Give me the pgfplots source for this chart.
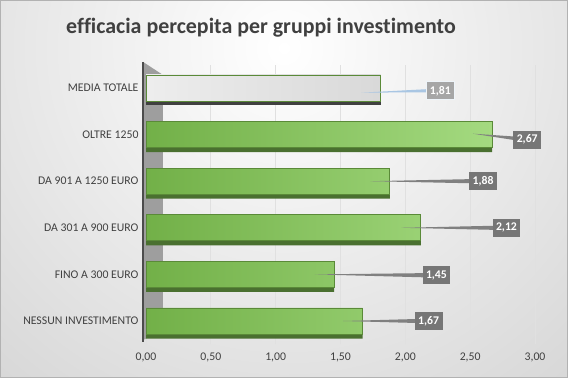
\documentclass[border=0pt]{standalone}
\usepackage{pgfplots}
\pgfplotsset{compat=1.18}
\usepackage{fontspec}
\setmainfont{Carlito}[Ligatures=NoCommon]
\definecolor{gA}{HTML}{72B048}
\definecolor{gB}{HTML}{A4DA80}
\definecolor{gEdge}{HTML}{5A8A38}
\definecolor{gDark}{HTML}{4A7030}
\definecolor{lbl}{HTML}{767676}
\definecolor{txt}{HTML}{404040}
\definecolor{callblue}{HTML}{A9C6E3}
\begin{document}
\begin{tikzpicture}
\useasboundingbox (0bp,0bp) rectangle (568bp,378bp);
\begin{scope}
\clip (0bp,0bp) rectangle (568bp,378bp);
\shade[inner color=white, outer color=black!22] (284bp,330bp) circle (620bp);
\end{scope}
\draw[black!30] (0.5bp,0.5bp) rectangle (567.5bp,377.5bp);
\node[font=\bfseries\fontsize{22}{26}\selectfont, text=txt] at (261bp,350bp) {efficacia percepita per gruppi investimento};
\begin{axis}[
  at={(146bp,33.7bp)}, anchor=south west,
  scale only axis, width=389bp, height=279.6bp,
  xmin=0, xmax=3, ymin=-0.5, ymax=5.5,
  clip=false,
  axis line style={draw=none},
  major tick length=0pt,
  xtick={0,0.5,...,3},
  ytick={0,1,2,3,4,5},
  yticklabels={NESSUN INVESTIMENTO, FINO A 300 EURO, DA 301 A 900 EURO, DA 901 A 1250 EURO, OLTRE 1250, MEDIA TOTALE},
  yticklabel style={font=\fontsize{11.8}{13}\selectfont, text=txt, xshift=-4bp},
  xticklabel style={font=\fontsize{11.8}{13}\selectfont, text=txt, yshift=-5bp},
  /pgf/number format/.cd, use comma, fixed, fixed zerofill, precision=2, assume math mode=true,
  /pgfplots/.cd,
  xmajorgrids, grid style={black!12, line width=0.8pt},
]
% left wall
\addplot[fill=black!38, draw=none] coordinates {(-0.023,5.56) (0.131,5.28) (0.131,-0.19) (-0.023,-0.41)} --cycle;
\addplot[black!70, line width=1.6pt] coordinates {(-0.023,-0.45) (-0.023,5.56)};
% bar bottom faces
\addplot[xbar, bar shift=-15bp, bar width=5bp, fill=gDark, draw=none] coordinates {(1.67,0) (1.45,1) (2.12,2) (1.88,3) (2.67,4)};
\addplot[xbar, bar shift=-15bp, bar width=5bp, fill=black!75, draw=none] coordinates {(1.81,5)};
% bars
\addplot[xbar, bar shift=0pt, bar width=26bp, draw=gEdge, line width=0.8pt, left color=gA, right color=gB] coordinates {(1.67,0) (1.45,1) (2.12,2) (1.88,3) (2.67,4)};
\addplot[xbar, bar shift=0pt, bar width=26bp, draw=gEdge, line width=0.8pt, left color=black!7, right color=black!15] coordinates {(1.81,5)};
% callouts
\addplot[fill=black!50, draw=none] coordinates {(1.52,0) (2.18,0.05) (2.18,-0.05)} --cycle;
\addplot[fill=black!50, draw=none] coordinates {(1.30,1) (2.24,1.03) (2.24,0.93)} --cycle;
\addplot[fill=black!50, draw=none] coordinates {(1.97,2) (2.78,2.05) (2.78,1.95)} --cycle;
\addplot[fill=black!50, draw=none] coordinates {(1.73,3) (2.60,3.05) (2.60,2.95)} --cycle;
\addplot[fill=black!50, draw=none] coordinates {(2.52,4.02) (2.94,3.94) (2.94,3.84)} --cycle;
\addplot[fill=callblue, draw=none] coordinates {(1.66,4.9) (2.27,4.99) (2.27,4.91)} --cycle;
% labels
\addplot[draw=none, mark=none, nodes near coords, point meta=explicit symbolic,
  nodes near coords style={anchor=center, fill=lbl, text=white, inner xsep=3.5pt, inner ysep=2pt, minimum height=18bp, font=\bfseries\fontsize{11.8}{13}\selectfont}]
  table[meta=lab] {
x y lab
2.18 0 1,67
2.24 0.98 1,45
2.78 2 2,12
2.60 3 1,88
2.94 3.89 2,67
};
\addplot[draw=none, mark=none, nodes near coords, point meta=explicit symbolic,
  nodes near coords style={anchor=center, fill=black!35, draw=white!80!callblue, line width=0.8pt, text=white, inner xsep=3.5pt, inner ysep=2pt, minimum height=18bp, font=\bfseries\fontsize{11.8}{13}\selectfont}]
  table[meta=lab] {
x y lab
2.27 4.94 1,81
};
\end{axis}
\end{tikzpicture}
\end{document}
